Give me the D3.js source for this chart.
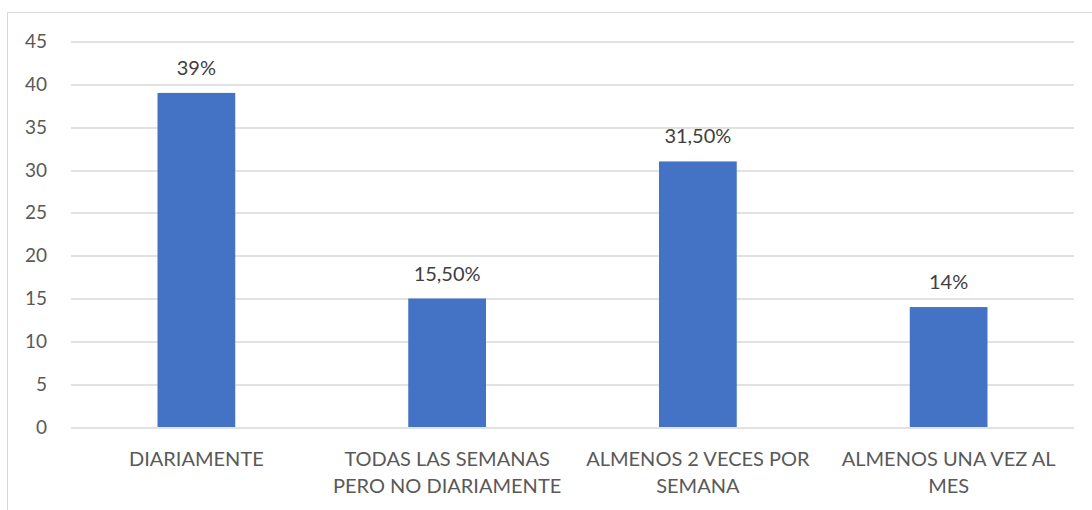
<!DOCTYPE html>
<html>
<head>
<meta charset="utf-8">
<script src="https://cdn.jsdelivr.net/npm/d3@7"></script>
<style>
  body { margin: 0; background: #fff; }
  text { font-family: Lato, "Open Sans", sans-serif; }
</style>
</head>
<body>
<svg width="1092" height="510"></svg>
<script>
var categories = [
    ["DIARIAMENTE"],
    ["TODAS LAS SEMANAS", "PERO NO DIARIAMENTE"],
    ["ALMENOS 2 VECES POR", "SEMANA"],
    ["ALMENOS UNA VEZ AL", "MES"]
];
var values = [39, 15, 31, 14];
var valueLabels = ["39%", "15,50%", "31,50%", "14%"];
var yTicks = [0, 5, 10, 15, 20, 25, 30, 35, 40, 45];

var svg = d3.select("svg");
var margin = {top: 41.5, left: 71, right: 18, bottom: 83};
var width = 1092 - margin.left - margin.right;
var height = 510 - margin.top - margin.bottom;

// chart frame
svg.append("rect")
    .attr("x", 7.5).attr("y", 12.5)
    .attr("width", 1100).attr("height", 520)
    .attr("fill", "none")
    .attr("stroke", "#d9d9d9");

var g = svg.append("g").attr("transform", "translate(" + margin.left + "," + margin.top + ")");

var x = d3.scaleBand()
    .domain(d3.range(categories.length))
    .range([0, width])
    .paddingInner(0.69)
    .paddingOuter(0.345);

var y = d3.scaleLinear()
    .domain([0, 45])
    .range([height, 0]);

g.selectAll(".grid")
    .data(yTicks)
    .enter().append("line")
    .attr("x1", 0).attr("x2", width)
    .attr("y1", function(d){ return Math.round(y(d)) + 0.5; })
    .attr("y2", function(d){ return Math.round(y(d)) + 0.5; })
    .attr("stroke", "#d9d9d9")
    .attr("stroke-width", 1.5);

var yAxis = g.append("g").call(d3.axisLeft(y).tickValues(yTicks).tickSize(0).tickPadding(24));
yAxis.select(".domain").remove();
yAxis.selectAll("text")
    .attr("fill", "#595959")
    .style("font-size", "19px")
    .style("font-family", "Lato, sans-serif");

g.selectAll(".bar")
    .data(values)
    .enter().append("rect")
    .attr("x", function(d, i){ return x(i); })
    .attr("width", x.bandwidth())
    .attr("y", function(d){ return y(d); })
    .attr("height", function(d){ return height - y(d); })
    .attr("fill", "#4472c4");

g.selectAll(".vlabel")
    .data(values)
    .enter().append("text")
    .attr("x", function(d, i){ return x(i) + x.bandwidth() / 2; })
    .attr("y", function(d){ return y(d) - 18; })
    .attr("text-anchor", "middle")
    .attr("fill", "#404040")
    .style("font-size", "20px")
    .text(function(d, i){ return valueLabels[i]; });

var catG = g.selectAll(".cat")
    .data(categories)
    .enter().append("text")
    .attr("text-anchor", "middle")
    .attr("fill", "#595959")
    .style("font-size", "20px")
    .attr("transform", function(d, i){ return "translate(" + (x(i) + x.bandwidth() / 2) + "," + (height + 39) + ")"; });

catG.selectAll("tspan")
    .data(function(d){ return d; })
    .enter().append("tspan")
    .attr("x", 0)
    .attr("dy", function(d, j){ return j === 0 ? 0 : 27; })
    .text(function(d){ return d; });
</script>
</body>
</html>
